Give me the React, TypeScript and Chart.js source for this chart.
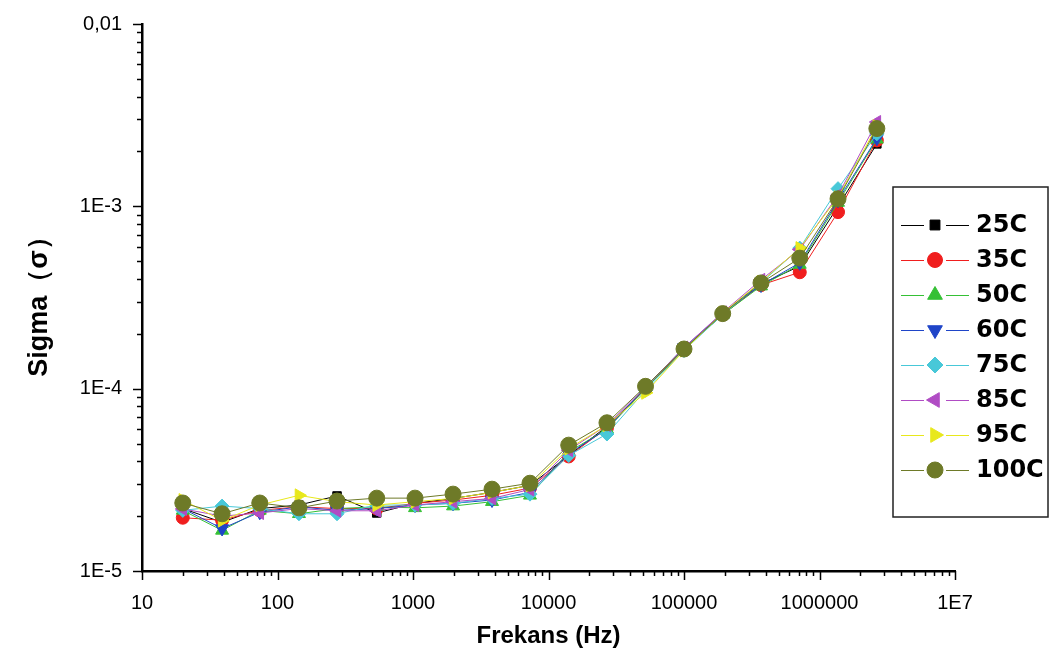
import React, { useEffect, useRef } from "react";
import { Chart, registerables } from "chart.js";
import { drawPoint } from "chart.js/helpers";

Chart.register(...registerables);

// ---------- data ----------
const frequencies = [20, 39, 74, 144, 275, 540, 1035, 1975, 3830, 7300, 14100, 27000, 52000, 100000, 193000, 370000, 715000, 1370000, 2650000];

const seriesLabels = ["25C", "35C", "50C", "60C", "75C", "85C", "95C", "100C"];

const sigma25C = [2.2e-5, 1.85e-5, 2.2e-5, 2.3e-5, 2.58e-5, 2.08e-5, 2.35e-5, 2.5e-5, 2.7e-5, 2.95e-5, 4.3e-5, 6.2e-5, 1.0e-4, 1.65e-4, 2.55e-4, 3.75e-4, 4.7e-4, 1.0e-3, 2.2e-3];
const sigma35C = [1.96e-5, 1.9e-5, 2.15e-5, 2.25e-5, 2.2e-5, 2.2e-5, 2.35e-5, 2.45e-5, 2.6e-5, 2.85e-5, 4.25e-5, 6.1e-5, 1.0e-4, 1.65e-4, 2.55e-4, 3.7e-4, 4.35e-4, 9.3e-4, 2.3e-3];
const sigma50C = [2.15e-5, 1.67e-5, 2.15e-5, 2.06e-5, 2.2e-5, 2.25e-5, 2.22e-5, 2.27e-5, 2.4e-5, 2.6e-5, 4.5e-5, 6.0e-5, 1.0e-4, 1.65e-4, 2.55e-4, 3.65e-4, 4.8e-4, 1.05e-3, 2.33e-3];
const sigma60C = [2.2e-5, 1.71e-5, 2.1e-5, 2.25e-5, 2.15e-5, 2.2e-5, 2.3e-5, 2.35e-5, 2.45e-5, 2.7e-5, 4.4e-5, 6.0e-5, 1.02e-4, 1.68e-4, 2.6e-4, 3.7e-4, 4.9e-4, 1.08e-3, 2.36e-3];
const sigma75C = [2.15e-5, 2.27e-5, 2.2e-5, 2.06e-5, 2.06e-5, 2.3e-5, 2.3e-5, 2.35e-5, 2.5e-5, 2.64e-5, 4.3e-5, 5.64e-5, 9.8e-5, 1.62e-4, 2.55e-4, 3.8e-4, 5.9e-4, 1.25e-3, 2.5e-3];
const sigma85C = [2.19e-5, 2.0e-5, 2.08e-5, 2.2e-5, 2.14e-5, 2.14e-5, 2.3e-5, 2.4e-5, 2.5e-5, 2.8e-5, 4.6e-5, 6.3e-5, 1.02e-4, 1.68e-4, 2.62e-4, 3.95e-4, 5.8e-4, 1.15e-3, 2.9e-3];
const sigma95C = [2.45e-5, 1.89e-5, 2.3e-5, 2.6e-5, 2.4e-5, 2.3e-5, 2.4e-5, 2.5e-5, 2.7e-5, 2.95e-5, 4.7e-5, 6.3e-5, 9.5e-5, 1.62e-4, 2.6e-4, 3.85e-4, 5.9e-4, 1.12e-3, 2.75e-3];
const sigma100C = [2.36e-5, 2.06e-5, 2.36e-5, 2.22e-5, 2.42e-5, 2.51e-5, 2.51e-5, 2.64e-5, 2.81e-5, 3.03e-5, 4.9e-5, 6.5e-5, 1.03e-4, 1.65e-4, 2.58e-4, 3.8e-4, 5.2e-4, 1.1e-3, 2.67e-3];

const allSeries = [sigma25C, sigma35C, sigma50C, sigma60C, sigma75C, sigma85C, sigma95C, sigma100C];

const xTickValues = [10, 100, 1000, 10000, 100000, 1000000, 10000000];
const xTickLabels = ["10", "100", "1000", "10000", "100000", "1000000", "1E7"];
const yTickValues = [1e-5, 1e-4, 1e-3, 1e-2];
const yTickLabels = ["1E-5", "1E-4", "1E-3", "0,01"];

const xTitle = "Frekans (Hz)";
const yTitle = "Sigma（σ）";

// ---------- styles ----------
const colors = ["#000000", "#f01e1e", "#35c035", "#1f45c8", "#48c8d8", "#b04cc4", "#e8e81c", "#6e7a28"];
const pointStyles = ["rect", "circle", "triangle", "triangle", "rectRot", "triangle", "triangle", "circle"];
const rotations = [0, 0, 0, 180, 0, -90, 90, 0];
const radii = [6, 6.5, 7.5, 7.5, 7, 7.5, 7.5, 8];
const legendRadii = [7, 7.5, 8.5, 8.5, 8, 8.5, 8.5, 8];

const FONT = "'Liberation Sans', Arial, sans-serif";

const overlayPlugin = {
  id: "overlay",
  afterDraw(chart: any) {
    const ctx = chart.ctx as CanvasRenderingContext2D;
    const xs = chart.scales.x;
    const ys = chart.scales.y;
    const area = chart.chartArea;
    ctx.save();
    ctx.strokeStyle = "#000";
    ctx.lineWidth = 1.5;
    // x ticks
    for (let e = 1; e <= 7; e++) {
      for (let k = 1; k <= 9; k++) {
        const v = k * Math.pow(10, e);
        if (v > 1e7 * 1.0001) continue;
        const px = Math.round(xs.getPixelForValue(v)) + 0.5;
        const len = k === 1 ? 9 : 5;
        ctx.beginPath();
        ctx.moveTo(px, area.bottom);
        ctx.lineTo(px, area.bottom + len);
        ctx.stroke();
      }
    }
    // y ticks
    for (let e = -5; e <= -2; e++) {
      for (let k = 1; k <= 9; k++) {
        const v = k * Math.pow(10, e);
        if (v > 1e-2 * 1.0001) continue;
        const py = Math.round(ys.getPixelForValue(v)) + 0.5;
        const len = k === 1 ? 9 : 5;
        ctx.beginPath();
        ctx.moveTo(area.left, py);
        ctx.lineTo(area.left - len, py);
        ctx.stroke();
      }
    }
    // axis titles
    ctx.fillStyle = "#000";
    ctx.font = "bold 24px " + FONT;
    ctx.textAlign = "center";
    ctx.textBaseline = "middle";
    ctx.fillText(xTitle, (area.left + area.right) / 2, 636);
    ctx.save();
    ctx.translate(40, 300);
    ctx.rotate(-Math.PI / 2);
    ctx.font = "bold 27px " + FONT;
    ctx.fillText(yTitle, 0, 0);
    ctx.restore();

    // legend
    const bx = 893, by = 187, bw = 155, bh = 330;
    ctx.fillStyle = "#fff";
    ctx.fillRect(bx, by, bw, bh);
    ctx.strokeStyle = "#222";
    ctx.lineWidth = 1.5;
    ctx.strokeRect(bx, by, bw, bh);
    chart.data.datasets.forEach((ds: any, i: number) => {
      const y = 225 + i * 35;
      ctx.strokeStyle = ds.borderColor;
      ctx.lineWidth = 1;
      ctx.beginPath();
      ctx.moveTo(901, y + 0.5);
      ctx.lineTo(924, y + 0.5);
      ctx.moveTo(946, y + 0.5);
      ctx.lineTo(969, y + 0.5);
      ctx.stroke();
      ctx.fillStyle = ds.pointBackgroundColor;
      ctx.strokeStyle = ds.pointBorderColor;
      ctx.lineWidth = 1;
      drawPoint(ctx, { pointStyle: ds.pointStyle, rotation: ds.pointRotation, radius: legendRadii[i], borderWidth: 1 }, 935, y);
      ctx.fillStyle = "#000";
      ctx.font = "bold 24px 'DejaVu Sans', sans-serif";
      ctx.textAlign = "left";
      ctx.textBaseline = "middle";
      ctx.fillText(ds.label, 976, y + 1);
    });
    ctx.restore();
  },
};

export default function App() {
  const canvasRef = useRef<HTMLCanvasElement | null>(null);

  useEffect(() => {
    if (!canvasRef.current) return;
    const datasets = allSeries.map((vals, i) => ({
      label: seriesLabels[i],
      data: frequencies.map((f, j) => ({ x: f, y: vals[j] })),
      borderColor: colors[i],
      backgroundColor: colors[i],
      pointBackgroundColor: colors[i],
      pointBorderColor: colors[i],
      pointStyle: pointStyles[i],
      pointRotation: rotations[i],
      pointRadius: radii[i],
      pointBorderWidth: 1,
      borderWidth: 1,
      tension: 0,
      order: allSeries.length - 1 - i,
    }));

    const chart = new Chart(canvasRef.current, {
      type: "line",
      data: { datasets },
      plugins: [overlayPlugin],
      options: {
        responsive: false,
        animation: false,
        layout: { padding: { left: 0, right: 96, top: 16, bottom: 0 } },
        plugins: { legend: { display: false }, tooltip: { enabled: false }, title: { display: false } },
        scales: {
          x: {
            type: "logarithmic",
            min: 10,
            max: 1e7,
            afterBuildTicks: (scale: any) => {
              scale.ticks = xTickValues.map((v) => ({ value: v }));
            },
            afterFit: (scale: any) => {
              scale.height = 87;
            },
            grid: { display: true, drawOnChartArea: false, drawTicks: true, tickLength: 8, tickColor: "rgba(0,0,0,0)" },
            border: { display: true, color: "#000", width: 2.5 },
            ticks: {
              autoSkip: false,
              maxRotation: 0,
              padding: 12,
              color: "#000",
              font: { family: FONT, size: 20 },
              callback: (_v: any, i: number) => xTickLabels[i],
            },
          },
          y: {
            type: "logarithmic",
            min: 1e-5,
            max: 1e-2,
            afterBuildTicks: (scale: any) => {
              scale.ticks = yTickValues.map((v) => ({ value: v }));
            },
            afterFit: (scale: any) => {
              scale.width = 142;
            },
            grid: { display: true, drawOnChartArea: false, drawTicks: true, tickLength: 8, tickColor: "rgba(0,0,0,0)" },
            border: { display: true, color: "#000", width: 2.5 },
            ticks: {
              autoSkip: false,
              padding: 12,
              color: "#000",
              font: { family: FONT, size: 20 },
              callback: (_v: any, i: number) => yTickLabels[i],
            },
          },
        },
      },
    } as any);
    return () => chart.destroy();
  }, []);

  return (
    <div style={{ position: "absolute", left: 0, top: 0, width: 1051, height: 658, background: "#fff" }}>
      <canvas ref={canvasRef} width={1051} height={658} style={{ width: 1051, height: 658, display: "block" }} />
    </div>
  );
}
